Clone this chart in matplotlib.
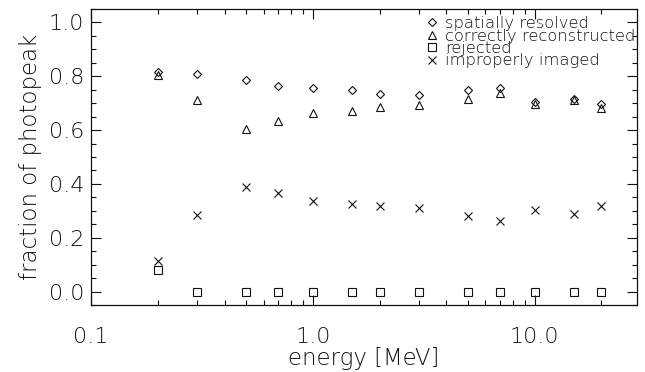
import matplotlib
matplotlib.use('Agg')
import matplotlib.pyplot as plt
from matplotlib.ticker import FixedLocator, FuncFormatter, MultipleLocator, LogLocator, NullFormatter

# energies [MeV]
energy = [0.2, 0.3, 0.5, 0.7, 1.0, 1.5, 2.0, 3.0, 5.0, 7.0, 10.0, 15.0, 20.0]

spatially_resolved = [0.815, 0.81, 0.785, 0.765, 0.757, 0.748, 0.735, 0.73, 0.75, 0.758, 0.705, 0.715, 0.695]
correctly_reconstructed = [0.805, 0.71, 0.605, 0.635, 0.665, 0.67, 0.686, 0.694, 0.717, 0.737, 0.698, 0.71, 0.683]
rejected = [0.08, 0.0, 0.0, 0.0, 0.0, 0.0, 0.0, 0.0, 0.0, 0.0, 0.0, 0.0, 0.0]
improperly_imaged = [0.115, 0.285, 0.39, 0.365, 0.335, 0.327, 0.317, 0.309, 0.279, 0.261, 0.302, 0.29, 0.317]

x_ticks = [0.1, 1.0, 10.0]
x_tick_labels = ['0.1', '1.0', '10.0']

ink = '#111111'
plt.rcParams['font.family'] = 'DejaVu Sans'

fig = plt.figure(figsize=(6.45, 3.72), dpi=100)
ax = fig.add_axes([0.141, 0.180, 0.847, 0.796])

mk = dict(linestyle='none', markerfacecolor='none', markeredgecolor=ink, markeredgewidth=0.8)
ax.plot(energy, spatially_resolved, marker='D', markersize=3.6, label='spatially resolved', **mk)
ax.plot(energy, correctly_reconstructed, marker='^', markersize=6.0, label='correctly reconstructed', **mk)
ax.plot(energy, rejected, marker='s', markersize=5.6, label='rejected', **mk)
ax.plot(energy, improperly_imaged, marker='x', markersize=6.3, label='improperly imaged', **mk)

ax.set_xscale('log')
ax.set_xlim(0.1, 29)
ax.set_ylim(-0.05, 1.05)

ax.xaxis.set_major_locator(FixedLocator(x_ticks))
ax.xaxis.set_major_formatter(FuncFormatter(lambda v, p: x_tick_labels[x_ticks.index(v)] if v in x_ticks else ''))
ax.xaxis.set_minor_locator(LogLocator(base=10, subs=[2, 3, 4, 5, 6, 7, 8, 9]))
ax.xaxis.set_minor_formatter(NullFormatter())
ax.yaxis.set_major_locator(MultipleLocator(0.2))
ax.yaxis.set_minor_locator(MultipleLocator(0.05))
ax.yaxis.set_major_formatter(FuncFormatter(lambda v, p: f'{v:.1f}'))

ax.tick_params(which='both', direction='in', top=True, right=True, color=ink, width=0.8)
ax.tick_params(which='major', length=7.5)
ax.tick_params(which='minor', length=3.8)
ax.tick_params(axis='x', which='major', pad=16, labelsize=16, labelcolor=ink)
ax.tick_params(axis='y', which='major', pad=5, labelsize=16, labelcolor=ink)
for s in ax.spines.values():
    s.set_linewidth(0.9)
    s.set_color(ink)

for lab in ax.get_xticklabels() + ax.get_yticklabels():
    lab.set_fontweight('light')

ax.set_xlabel('energy [MeV]', fontsize=16.5, color=ink, labelpad=0, fontweight='light')
ax.set_ylabel('fraction of photopeak', fontsize=16.5, color=ink, labelpad=5, fontweight='light')

leg = ax.legend(loc='upper right', frameon=False, fontsize=11.8, handlelength=0.6,
                handletextpad=0.5, labelspacing=-0.16, borderaxespad=0.3,
                borderpad=0.0, markerscale=1.0, bbox_to_anchor=(1.006, 0.992))
for t in leg.get_texts():
    t.set_color(ink)
    t.set_fontweight('light')

fig.savefig('out.png', dpi=100, facecolor='white')
